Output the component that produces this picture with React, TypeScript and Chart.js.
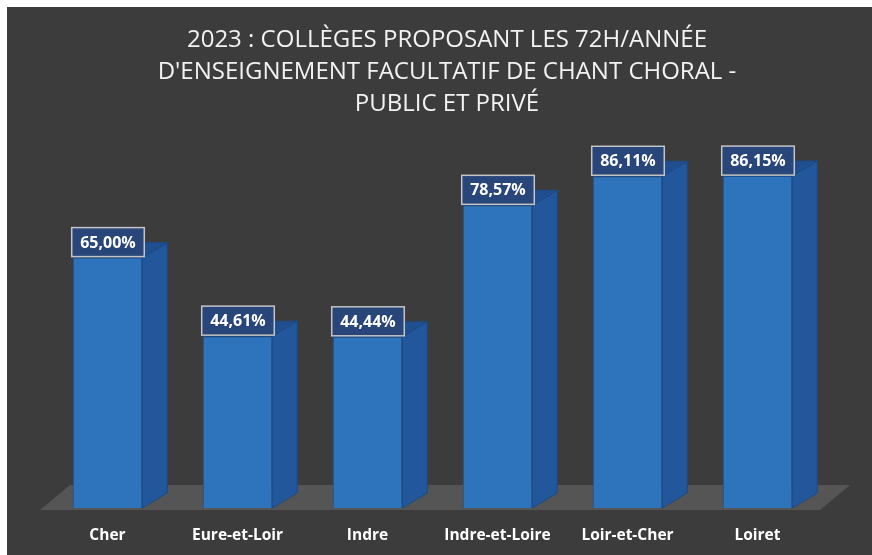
import React, { useEffect, useRef } from "react";
import { Chart, registerables } from "chart.js";

Chart.register(...registerables);

const categories = ["Cher", "Eure-et-Loir", "Indre", "Indre-et-Loire", "Loir-et-Cher", "Loiret"];
const values = [65.0, 44.61, 44.44, 78.57, 86.11, 86.15];
const valueLabels = ["65,00%", "44,61%", "44,44%", "78,57%", "86,11%", "86,15%"];
const titleLines = [
  "2023 : COLLÈGES PROPOSANT LES 72H/ANNÉE",
  "D'ENSEIGNEMENT FACULTATIF DE CHANT CHORAL -",
  "PUBLIC ET PRIVÉ",
];

const DEPTH_X = 25;
const DEPTH_Y = -15;
const FLOOR_X = 30;
const FLOOR_Y = -25;

const bars3d = {
  id: "bars3d",
  beforeDatasetsDraw(chart: any) {
    const { ctx, chartArea } = chart;
    const meta = chart.getDatasetMeta(0);
    ctx.save();
    const fb = chartArea.bottom + 2;
    const fl = chartArea.left - 2.5;
    const fr = chartArea.right - 2.5;
    ctx.fillStyle = "#555555";
    ctx.beginPath();
    ctx.moveTo(fl, fb);
    ctx.lineTo(fr, fb);
    ctx.lineTo(fr + FLOOR_X, fb + FLOOR_Y);
    ctx.lineTo(fl + FLOOR_X, fb + FLOOR_Y);
    ctx.closePath();
    ctx.fill();
    meta.data.forEach((bar: any) => {
      const { x, y, base, width } = bar.getProps(["x", "y", "base", "width"], true);
      const x1 = x - width / 2;
      const x2 = x + width / 2;
      // side face
      ctx.fillStyle = "#22579b";
      ctx.beginPath();
      ctx.moveTo(x2, y);
      ctx.lineTo(x2 + DEPTH_X, y + DEPTH_Y);
      ctx.lineTo(x2 + DEPTH_X, base + DEPTH_Y);
      ctx.lineTo(x2, base);
      ctx.closePath();
      ctx.fill();
      ctx.strokeStyle = "#1c4a86";
      ctx.lineWidth = 1;
      ctx.stroke();
      // top face
      ctx.fillStyle = "#1f4f8e";
      ctx.beginPath();
      ctx.moveTo(x1, y);
      ctx.lineTo(x1 + DEPTH_X, y + DEPTH_Y);
      ctx.lineTo(x2 + DEPTH_X, y + DEPTH_Y);
      ctx.lineTo(x2, y);
      ctx.closePath();
      ctx.fill();
      ctx.stroke();
    });
    ctx.restore();
  },
  afterDatasetsDraw(chart: any) {
    const { ctx } = chart;
    const meta = chart.getDatasetMeta(0);
    ctx.save();
    meta.data.forEach((bar: any, i: number) => {
      const { x, y, width } = bar.getProps(["x", "y", "width"], true);
      const bx = x - width / 2 - 1;
      const bw = width + 3;
      const bh = 29;
      const by = y - bh - 1;
      ctx.fillStyle = "#29467a";
      ctx.fillRect(bx, by, bw, bh);
      ctx.strokeStyle = "#c4c4c4";
      ctx.lineWidth = 1.5;
      ctx.strokeRect(bx, by, bw, bh);
      ctx.fillStyle = "#ffffff";
      ctx.font = "bold 16px 'Open Sans'";
      ctx.textAlign = "center";
      ctx.textBaseline = "middle";
      ctx.fillText(valueLabels[i], bx + bw / 2, by + bh / 2 + 1);
    });
    ctx.restore();
  },
};

export default function App() {
  const ref = useRef<HTMLCanvasElement | null>(null);
  useEffect(() => {
    document.body.style.margin = "0";
    document.body.style.background = "#ffffff";
    const canvas = ref.current!;
    const chart = new Chart(canvas, {
      type: "bar",
      data: {
        labels: categories,
        datasets: [
          {
            data: values,
            backgroundColor: "#2e74bd",
            borderColor: "#1d4f8f",
            borderWidth: 1,
            barPercentage: 1,
            categoryPercentage: 0.535,
          },
        ],
      },
      options: {
        responsive: false,
        animation: false,
        events: [],
        layout: { padding: { left: 35.5, right: 20.5, top: 0, bottom: 0 } },
        plugins: {
          legend: { display: false },
          tooltip: { enabled: false },
          title: {
            display: true,
            text: titleLines,
            color: "#f2f2f2",
            font: { family: "'Open Sans'", size: 24, weight: "normal", lineHeight: 1.33 },
            padding: { top: 17, bottom: 3 },
          },
        },
        scales: {
          x: {
            grid: { display: false, drawTicks: false },
            border: { display: false },
            ticks: {
              color: "#ffffff",
              font: { family: "'Open Sans'", size: 15.5, weight: "bold" },
              padding: 18,
            },
            afterFit: (scale: any) => {
              scale.height = 47;
            },
          },
          y: {
            position: "right",
            min: 0,
            max: 100,
            grid: { display: false, drawTicks: false },
            border: { display: false },
            ticks: { display: false },
            afterFit: (scale: any) => {
              scale.width = 29;
            },
          },
        },
      },
      plugins: [bars3d],
    });
    return () => chart.destroy();
  }, []);
  return (
    <div style={{ position: "relative", width: 872, height: 555, background: "#ffffff", overflow: "hidden" }}>
      <canvas
        ref={ref}
        width={865}
        height={548}
        style={{ position: "absolute", left: 7, top: 7, width: 865, height: 548, background: "#3c3c3c" }}
      />
    </div>
  );
}
